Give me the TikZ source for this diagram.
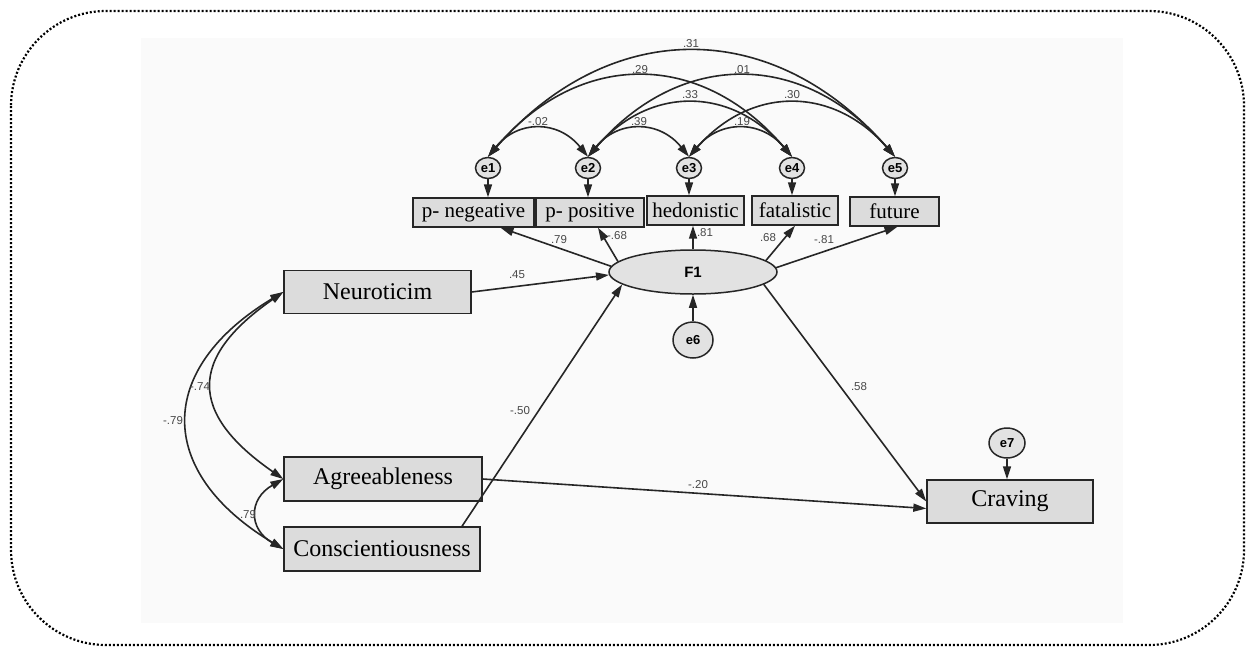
\documentclass[tikz,border=0pt]{standalone}
\usepackage{fontspec}
\setmainfont{Liberation Serif}
\newfontfamily\labelfont{Liberation Sans}
\usetikzlibrary{arrows.meta,shapes.geometric,calc}

\definecolor{boxfill}{HTML}{DCDCDC}
\definecolor{latfill}{HTML}{E2E2E2}
\definecolor{panel}{HTML}{FAFAFA}
\definecolor{ink}{HTML}{262626}
\definecolor{coef}{HTML}{484848}

\tikzset{
  obs/.style={rectangle, draw=ink, line width=1.4pt, fill=boxfill, minimum height=29pt,
    inner sep=0pt, font=\fontsize{21}{21}\selectfont},
  bigobs/.style={obs, minimum height=43pt, font=\fontsize{24}{24}\selectfont},
  err/.style={ellipse, draw=ink, line width=1.5pt, fill=latfill, inner sep=0pt,
    minimum width=25pt, minimum height=21pt, font=\labelfont\bfseries\fontsize{13}{13}\selectfont},
  latent/.style={ellipse, draw=ink, line width=1.5pt, fill=latfill, inner sep=0pt,
    font=\labelfont\bfseries\fontsize{15}{15}\selectfont},
  tip/.tip={Triangle[length=13pt,width=8pt]},
  regr/.style={draw=ink, line width=1.6pt, -tip},
  cov/.style={draw=ink, line width=1.6pt, tip-tip},
  coeff/.style={font=\labelfont\fontsize{11.5}{11.5}\selectfont, text=coef, inner sep=0pt},
}

\begin{document}
\begin{tikzpicture}[x=1pt,y=-1pt]
\useasboundingbox (0,0) rectangle (1247,648);

% panel and dotted frame
\fill[panel] (141,38) rectangle (1123,623);
\draw[line width=2.2pt, dash pattern=on 2pt off 2pt, rounded corners=95pt]
  (11,11) rectangle (1244,645);

% time-perspective indicators
\node[obs, minimum width=121pt] (pneg) at (473.5,212.5) {p- negeative};
\node[obs, minimum width=108pt] (ppos) at (590,212.5) {p- positive};
\node[obs, minimum width=97pt]  (hed)  at (695.5,210.5) {hedonistic};
\node[obs, minimum width=86pt]  (fat)  at (795,210.5) {fatalistic};
\node[obs, minimum width=89pt]  (fut)  at (894.5,211.5) {future};

% residuals of the indicators
\node[err] (e1) at (488,168) {e1};
\node[err] (e2) at (588,168) {e2};
\node[err] (e3) at (689,168) {e3};
\node[err] (e4) at (792,168) {e4};
\node[err] (e5) at (895,168) {e5};

% latent factor
\node[latent, minimum width=168pt, minimum height=44pt] (F1) at (693,272) {F1};
\node[err, minimum width=40pt, minimum height=36pt] (e6) at (693,340) {e6};

% personality traits and outcome
\node[bigobs, minimum width=187pt] (neu) at (377.5,292) {Neuroticim};
\node[bigobs, minimum width=198pt, minimum height=44pt] (agr) at (383,479) {Agreeableness};
\node[bigobs, minimum width=196pt, minimum height=44pt] (con) at (382,549) {Conscientiousness};
\node[bigobs, minimum width=166pt] (crav) at (1010,501.5) {Craving};
\node[err, minimum width=36pt, minimum height=30pt] (e7) at (1007,443) {e7};

% residual paths
\foreach \e/\b in {e1/pneg, e2/ppos, e3/hed, e4/fat, e5/fut}
  \draw[regr] (\e.south) -- (\e.south |- \b.north);
\draw[regr] (e6.north) -- (F1.south);
\draw[regr] (e7.south) -- (e7.south |- crav.north);

% loadings
\draw[regr] (F1.176) -- ([xshift=27pt]pneg.south);
\draw[regr] (F1.172) -- ([xshift=8pt]ppos.south);
\draw[regr] (F1.north) -- (F1.north |- hed.south);
\draw[regr] (F1.9) -- (fat.south);
\draw[regr] (F1.3) -- ([xshift=3pt]fut.south);

% structural paths
\draw[regr] (neu.east) -- (F1.182);
\draw[regr] ([xshift=80pt]con.north) -- (F1.190);
\draw[regr] (F1.350) -- (crav.west);
\draw[regr] (agr.east) -- ([yshift=-7pt]crav.west);

% residual covariances
\draw[cov] (e1.north) .. controls +(30,-37) and +(-30,-37) .. (e2.north);
\draw[cov] (e2.north) .. controls +(30,-37) and +(-30,-37) .. (e3.north);
\draw[cov] (e3.north) .. controls +(31,-37) and +(-31,-37) .. (e4.north);
\draw[cov] (e2.north) .. controls +(61,-71) and +(-61,-71) .. (e4.north);
\draw[cov] (e3.north) .. controls +(62,-71) and +(-62,-71) .. (e5.north);
\draw[cov] (e1.north) .. controls +(91,-107) and +(-91,-107) .. (e4.north);
\draw[cov] (e2.north) .. controls +(92,-107) and +(-92,-107) .. (e5.north);
\draw[cov] (e1.north) .. controls +(122,-140) and +(-122,-140) .. (e5.north);

% trait correlations
\draw[cov] (neu.west) .. controls +(-95,66) and +(-95,-66) .. (agr.west);
\draw[cov] (neu.west) .. controls +(-128,77) and +(-128,-77) .. (con.west);
\draw[cov] (agr.west) .. controls +(-35,20) and +(-35,-20) .. (con.west);

% coefficients
\node[coeff] at (691,44) {.31};
\node[coeff] at (640,70) {.29};
\node[coeff] at (742,70) {.01};
\node[coeff] at (690,95) {.33};
\node[coeff] at (792,95) {.30};
\node[coeff] at (538,122) {-.02};
\node[coeff] at (639,122) {.39};
\node[coeff] at (742,122) {.19};
\node[coeff] at (559,240) {.79};
\node[coeff] at (617,236) {-.68};
\node[coeff] at (705,233) {.81};
\node[coeff] at (768,238) {.68};
\node[coeff] at (824,240) {-.81};
\node[coeff] at (517,275) {.45};
\node[coeff] at (520,411) {-.50};
\node[coeff] at (859,387) {.58};
\node[coeff] at (698,485) {-.20};
\node[coeff] at (200,387) {-.74};
\node[coeff] at (173,421) {-.79};
\node[coeff] at (248,515) {.79};
\end{tikzpicture}
\end{document}
